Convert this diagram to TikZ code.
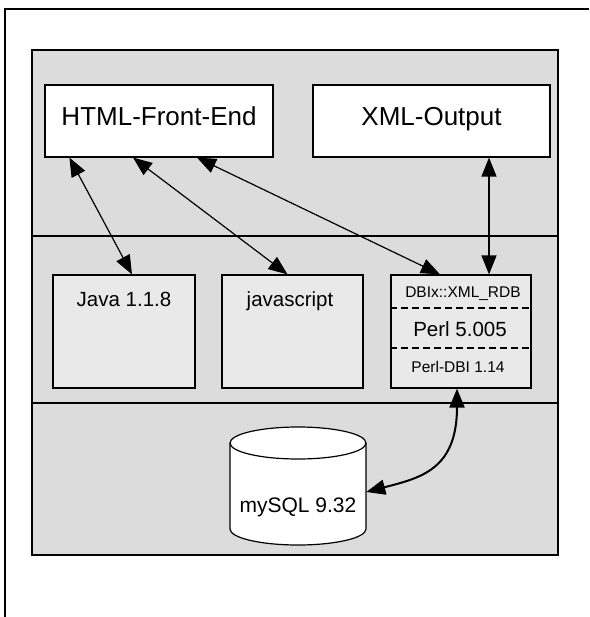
\documentclass[tikz,border=0pt]{standalone}
\usepackage{fontspec}
\setmainfont{Liberation Sans}
\usetikzlibrary{arrows.meta}
\tikzset{>={Triangle[length=19pt,width=15pt]}}
\definecolor{panelgray}{HTML}{DCDCDC}
\definecolor{boxgray}{HTML}{E9E9E9}
\tikzset{
	% boxes of the top layer
	outbox/.style={draw,fill=white,line width=1.2pt,inner sep=0pt,minimum height=72},
	% boxes of the middle layer
	midbox/.style={draw,fill=boxgray,line width=1.2pt,inner sep=0pt,minimum height=113},
	% texts
	bigtext/.style={anchor=base,inner sep=0pt,font=\fontsize{26}{30}\selectfont},
	midtext/.style={anchor=base,inner sep=0pt,font=\fontsize{20.5}{24}\selectfont},
	smalltext/.style={anchor=base,inner sep=0pt,font=\fontsize{15.5}{18}\selectfont},
	% connectors
	conn/.style={<->,line width=1.2pt},
}

\begin{document}
\begin{tikzpicture}[x=1pt,y=-1pt]
\useasboundingbox (0,0) rectangle (589,617);
% the frame and the layered panel
\draw[line width=1.5pt] (5,617) |- (589,9);
\draw[fill=panelgray,line width=1.5pt] (32,50) rectangle (558,555);
\foreach \y in {236,403}
  \draw[line width=1.2pt] (32,\y) -- (558,\y);
% top layer
\node[outbox,minimum width=228] (html) at (159,121) {};
\node[bigtext] (htmltxt) at (159,126) {HTML-Front-End};
\node[outbox,minimum width=237] (xml) at (431.5,121) {};
\node[bigtext] (xmltxt) at (431.5,126) {XML-Output};
% middle layer
\node[midbox,minimum width=142] (java) at (124,331.5) {};
\node[midtext] (javatxt) at (124,306) {Java 1.1.8};
\node[midbox,minimum width=141] (js) at (292.5,331.5) {};
\node[midtext] (jstxt) at (290,306) {javascript};
\node[midbox,minimum width=140] (dbi) at (461,331.5) {};
\draw[dashed,dash pattern=on 7pt off 4pt,line width=1.2pt] (dbi.west |- 0,308) -- (dbi.east |- 0,308);
\draw[dashed,dash pattern=on 7pt off 4pt,line width=1.2pt] (dbi.west |- 0,348) -- (dbi.east |- 0,348);
\node[smalltext] (rdbtxt) at (463,297) {DBIx::XML\_RDB};
\node[midtext] (perltxt) at (460,336) {Perl 5.005};
\node[smalltext] (dbitxt) at (458,372) {Perl-DBI 1.14};
% bottom layer: the database
\draw[fill=white,line width=1.2pt] (230,443) -- (230,529)
  arc[start angle=180,end angle=0,x radius=68,y radius=16] -- (366,443)
  arc[start angle=0,end angle=-180,x radius=68,y radius=16] -- cycle;
\draw[line width=1.2pt] (230,443) arc[start angle=180,end angle=0,x radius=68,y radius=16];
\node[minimum width=136,minimum height=118,inner sep=0pt] (db) at (298,486) {};
\node[midtext,font=\fontsize{21}{25}\selectfont] (dbtxt) at (298,512) {mySQL 9.32};
% the connectors
\draw[conn] ([xshift=25pt]html.south west) -- ([xshift=8pt]java.north);
\draw[conn] ([xshift=-26pt]html.south) -- ([xshift=-5pt]js.north);
\draw[conn] ([xshift=38pt]html.south) -- ([xshift=-21pt]dbi.north);
\draw[conn] (xml.south -| 489,0) -- (dbi.north -| 489,0);
\draw[conn,line width=2pt] ([xshift=-4pt]dbi.south) .. controls (457,470) and (420,478) .. ([yshift=-6pt]db.east);
\end{tikzpicture}
\end{document}
